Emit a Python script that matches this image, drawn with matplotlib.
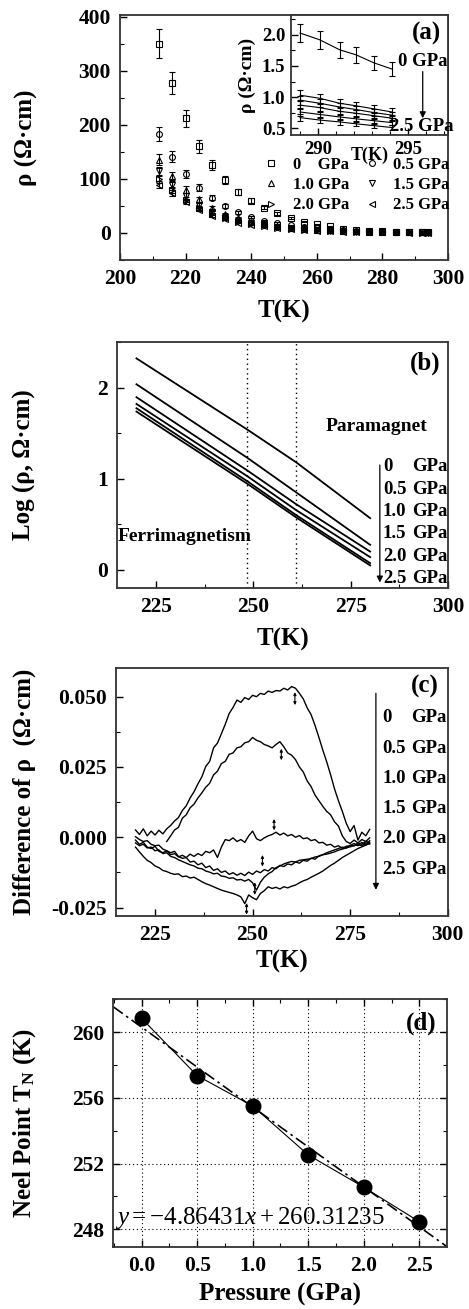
import numpy as np
import matplotlib
matplotlib.use('Agg')
import matplotlib.pyplot as plt
from matplotlib.ticker import MultipleLocator, FormatStrFormatter

plt.rcParams['font.family'] = ['Liberation Serif', 'DejaVu Serif']
plt.rcParams['font.weight'] = 'bold'
plt.rcParams['axes.labelweight'] = 'bold'
plt.rcParams['mathtext.fontset'] = 'custom'
plt.rcParams['mathtext.rm'] = 'Liberation Serif:regular'
plt.rcParams['mathtext.it'] = 'Liberation Serif:italic:regular'
plt.rcParams['mathtext.bf'] = 'Liberation Serif:bold'
plt.rcParams['axes.linewidth'] = 1.3
plt.rcParams['axes.edgecolor'] = '#333333'
plt.rcParams['xtick.direction'] = 'in'
plt.rcParams['ytick.direction'] = 'in'

# ---------------- data ----------------
pressures = ['0', '0.5', '1.0', '1.5', '2.0', '2.5']
legend_labels = ['0    GPa', '0.5 GPa', '1.0 GPa', '1.5 GPa', '2.0 GPa', '2.5 GPa']
markers_a = ['s', 'o', '^', 'v', '>', '<']

# panel (a) main
T_a = [212, 216, 220, 224, 228, 232, 236, 240, 244, 248, 252, 256, 260, 264,
       268, 272, 276, 280, 284, 288, 292, 294]
rho_0 = [350, 277, 212, 160, 125, 98, 75, 60, 47, 36, 28, 21, 16, 12, 8, 6, 4, 3, 2, 2, 1, 1]
rho_05 = [183, 141, 109, 84, 65, 49, 38, 29, 23, 18, 14, 11, 9, 7, 5, 4, 3, 2, 2, 1, 1, 1]
rho_10 = [135, 105, 80, 62, 46, 35, 27, 21, 17, 13, 10, 8, 6, 5, 4, 3, 2, 2, 1, 1, 1, 1]
rho_15 = [114, 89, 68, 51, 39, 29, 23, 18, 14, 11, 9, 7, 5, 4, 3, 2, 2, 1, 1, 1, 1, 0.5]
rho_20 = [100, 79, 61, 46, 35, 27, 21, 16, 13, 10, 8, 6, 5, 4, 3, 2, 2, 1, 1, 1, 0.5, 0.5]
rho_25 = [89, 74, 57, 43, 32, 25, 19, 15, 12, 9, 7, 5, 4, 3, 2, 2, 1, 1, 1, 0.5, 0.5, 0.5]
rel_err = 0.075  # relative uncertainty of resistivity

# panel (a) inset
T_in = [289.0, 290.1, 291.2, 292.1, 293.1, 294.1]
rin_0 = [2.03, 1.92, 1.76, 1.68, 1.55, 1.45]
rin_05 = [1.03, 0.98, 0.90, 0.86, 0.81, 0.76]
rin_10 = [0.95, 0.90, 0.84, 0.80, 0.75, 0.71]
rin_15 = [0.87, 0.83, 0.77, 0.74, 0.70, 0.66]
rin_20 = [0.76, 0.72, 0.68, 0.65, 0.62, 0.59]
rin_25 = [0.67, 0.63, 0.60, 0.57, 0.54, 0.51]

# panel (b)
T_b = [220, 248.6, 261.0, 280]
log_0 = [2.32, 1.535, 1.18, 0.567]
log_05 = [2.036, 1.225, 0.85, 0.274]
log_10 = [1.894, 1.086, 0.72, 0.20]
log_15 = [1.82, 1.023, 0.655, 0.139]
log_20 = [1.773, 0.968, 0.60, 0.073]
log_25 = [1.736, 0.94, 0.575, 0.048]

# panel (c)
T_c = list(range(220, 281))
T_c05 = list(range(228, 281))
d_0 = [0.0026, 0.0010, 0.0030, 0.0005, 0.0022, 0.0008, 0.0025, 0.0012, 0.0030, 0.0042,
       0.0058, 0.0070, 0.0095, 0.0112, 0.0140, 0.0162, 0.0190, 0.0215, 0.0252, 0.0270,
       0.0318, 0.0335, 0.0368, 0.0402, 0.0440, 0.0462, 0.0488, 0.0480, 0.0497, 0.0490,
       0.0505, 0.0500, 0.0512, 0.0508, 0.0520, 0.0515, 0.0522, 0.0520, 0.0530, 0.0524,
       0.0536, 0.0530, 0.0512, 0.0492, 0.0460, 0.0436, 0.0398, 0.0355, 0.0310, 0.0268,
       0.0222, 0.0172, 0.0130, 0.0092, 0.0050, 0.0020, 0.0042, -0.0010, 0.0018, 0.0005,
       0.0028]
d_05 = [-0.0015, 0.0005, 0.0026, 0.0035, 0.0068, 0.0080, 0.0105, 0.0118, 0.0140, 0.0158,
        0.0178, 0.0192, 0.0222, 0.0235, 0.0262, 0.0270, 0.0295, 0.0300, 0.0318, 0.0322,
        0.0336, 0.0340, 0.0355, 0.0345, 0.0340, 0.0330, 0.0325, 0.0318, 0.0330, 0.0340,
        0.0322, 0.0300, 0.0292, 0.0276, 0.0250, 0.0232, 0.0200, 0.0180, 0.0150, 0.0130,
        0.0110, 0.0092, 0.0080, 0.0055, 0.0040, 0.0005, -0.0015, -0.0022, -0.0010, -0.0020,
        -0.0008, -0.0015, -0.0002]
d_10 = [-0.0010, -0.0025, -0.0018, -0.0035, -0.0040, -0.0032, -0.0050, -0.0055, -0.0048, -0.0062,
        -0.0058, -0.0070, -0.0064, -0.0072, -0.0060, -0.0068, -0.0058, -0.0065, -0.0050, -0.0055,
        -0.0045, -0.0072, -0.0035, -0.0008, -0.0012, -0.0002, -0.0015, -0.0008, -0.0018, 0.0005,
        0.0022, -0.0005, -0.0012, -0.0002, 0.0005, 0.0010, 0.0018, 0.0008, 0.0015, 0.0005,
        0.0010, 0.0000, 0.0006, -0.0005, -0.0002, -0.0012, -0.0008, -0.0020, -0.0018, -0.0028,
        -0.0025, -0.0035, -0.0030, -0.0040, -0.0032, -0.0030, -0.0022, -0.0030, -0.0018, -0.0028,
        -0.0012]
d_15 = [0.0002, -0.0008, -0.0015, -0.0012, -0.0025, -0.0030, -0.0028, -0.0042, -0.0048, -0.0055,
        -0.0050, -0.0068, -0.0075, -0.0072, -0.0088, -0.0085, -0.0098, -0.0092, -0.0108, -0.0102,
        -0.0118, -0.0112, -0.0125, -0.0120, -0.0132, -0.0126, -0.0135, -0.0128, -0.0136, -0.0124,
        -0.0132, -0.0120, -0.0126, -0.0115, -0.0120, -0.0108, -0.0112, -0.0100, -0.0104, -0.0095,
        -0.0098, -0.0088, -0.0092, -0.0082, -0.0085, -0.0074, -0.0078, -0.0066, -0.0062, -0.0055,
        -0.0050, -0.0045, -0.0040, -0.0035, -0.0038, -0.0028, -0.0030, -0.0020, -0.0025, -0.0015,
        -0.0018]
d_20 = [-0.0020, -0.0030, -0.0025, -0.0038, -0.0035, -0.0048, -0.0045, -0.0058, -0.0055, -0.0068,
        -0.0072, -0.0080, -0.0086, -0.0092, -0.0098, -0.0102, -0.0110, -0.0112, -0.0120, -0.0124,
        -0.0130, -0.0128, -0.0138, -0.0140, -0.0146, -0.0144, -0.0152, -0.0150, -0.0156, -0.0150,
        -0.0162, -0.0188, -0.0160, -0.0142, -0.0130, -0.0122, -0.0108, -0.0102, -0.0095, -0.0090,
        -0.0086, -0.0088, -0.0082, -0.0080, -0.0078, -0.0076, -0.0070, -0.0068, -0.0062, -0.0060,
        -0.0056, -0.0052, -0.0046, -0.0042, -0.0038, -0.0034, -0.0030, -0.0026, -0.0030, -0.0020,
        -0.0024]
d_25 = [-0.0035, -0.0052, -0.0068, -0.0082, -0.0090, -0.0102, -0.0108, -0.0118, -0.0122, -0.0128,
        -0.0132, -0.0130, -0.0140, -0.0138, -0.0145, -0.0142, -0.0150, -0.0158, -0.0165, -0.0170,
        -0.0176, -0.0182, -0.0188, -0.0192, -0.0196, -0.0200, -0.0205, -0.0212, -0.0236, -0.0205,
        -0.0215, -0.0222, -0.0200, -0.0190, -0.0176, -0.0182, -0.0178, -0.0184, -0.0176, -0.0180,
        -0.0174, -0.0170, -0.0162, -0.0155, -0.0150, -0.0142, -0.0135, -0.0128, -0.0120, -0.0110,
        -0.0100, -0.0092, -0.0082, -0.0072, -0.0064, -0.0056, -0.0048, -0.0040, -0.0034, -0.0028,
        -0.0022]
# small transition markers on (c): (upper, lower) ends
mark_hi = [0.0516, 0.0315, 0.0065, -0.0063, -0.0160, -0.0234]
mark_lo = [0.0470, 0.0274, 0.0025, -0.0104, -0.0205, -0.0275]

# panel (d)
pressure = [0.0, 0.5, 1.0, 1.5, 2.0, 2.5]
tn = [260.85, 257.36, 255.51, 252.53, 250.56, 248.46]
fit_slope = -4.86431
fit_icpt = 260.31235

# ---------------- figure ----------------
W, H = 469, 1309
fig = plt.figure(figsize=(W / 100, H / 100), dpi=100)


def box(l, t, r, b):
    return [l / W, 1 - b / H, (r - l) / W, (b - t) / H]


TICK = 15.5
LAB = 18
TXT = 14
ROW = 13.5


def style(ax, pad=6.5, size=TICK):
    ax.tick_params(which='major', length=5, width=1.0, labelsize=size, pad=pad)
    ax.tick_params(which='minor', length=3, width=0.8)
    for s in ax.spines.values():
        s.set_color('#333333')


# ===== (a) =====
ax = fig.add_axes(box(120, 15, 448, 260))
series_a = [rho_0, rho_05, rho_10, rho_15, rho_20, rho_25]
handles = []
for vals, mk, lab in zip(series_a, markers_a, legend_labels):
    v = np.array(vals, dtype=float)
    h = ax.errorbar(T_a, v, yerr=rel_err * v, fmt=mk, ms=4.2, mfc='none', mec='k',
                    mew=0.8, ecolor='k', elinewidth=0.8, capsize=2.5, capthick=0.8,
                    label=lab)
    handles.append(h)
ax.set_xlim(200, 300)
ax.set_ylim(-50, 403)
ax.xaxis.set_major_locator(MultipleLocator(20))
ax.xaxis.set_minor_locator(MultipleLocator(10))
ax.yaxis.set_major_locator(MultipleLocator(100))
ax.yaxis.set_minor_locator(MultipleLocator(50))
style(ax)
ax.set_xlabel('T(K)', fontsize=LAB)
ax.set_ylabel('ρ (Ω·cm)', fontsize=LAB)
ax.xaxis.set_label_coords(0.5, -0.163)
ax.yaxis.set_label_coords(-0.25, 0.5)
order = [0, 2, 4, 1, 3, 5]
lh = [handles[i][0] for i in order]
ll = [legend_labels[i] for i in order]
ax.legend(lh, ll, ncol=2, loc='upper right', bbox_to_anchor=(1.005, 0.42),
          frameon=False, fontsize=12, handlelength=1.0, handletextpad=0.8,
          columnspacing=0.85, labelspacing=0.25, borderaxespad=0, borderpad=0)

# inset
axi = fig.add_axes(box(291, 15, 448, 135))
for vals in [rin_0, rin_05, rin_10, rin_15, rin_20, rin_25]:
    v = np.array(vals)
    axi.errorbar(T_in, v, yerr=rel_err * v, color='k', lw=0.8, elinewidth=0.8,
                 capsize=2.5, capthick=0.8)
axi.set_xlim(288.5, 297.2)
axi.set_ylim(0.39, 2.32)
axi.xaxis.set_major_locator(MultipleLocator(5))
axi.xaxis.set_minor_locator(MultipleLocator(1))
axi.yaxis.set_major_locator(MultipleLocator(0.5))
axi.yaxis.set_minor_locator(MultipleLocator(0.25))
style(axi, pad=4, size=13.5)
axi.yaxis.set_major_formatter(FormatStrFormatter('%.1f'))
axi.set_xlabel('T(K)', fontsize=13)
axi.set_ylabel('ρ (Ω·cm)', fontsize=14)
axi.xaxis.set_label_coords(0.5, -0.1)
axi.yaxis.set_label_coords(-0.22, 0.5)
axi.text(296.0, 2.03, '(a)', fontsize=18, ha='center', va='center')
axi.text(295.8, 1.57, '0 GPa', fontsize=ROW, ha='center', va='center')
axi.text(295.76, 0.53, '2.5 GPa', fontsize=ROW, ha='center', va='center')
axi.annotate('', xy=(295.8, 0.66), xytext=(295.8, 1.41),
             arrowprops=dict(arrowstyle='-|>', color='k', lw=0.9,
                             mutation_scale=9, shrinkA=0, shrinkB=0))

# ===== (b) =====
ax = fig.add_axes(box(117, 342, 448, 588))
for vals in [log_0, log_05, log_10, log_15, log_20, log_25]:
    ax.plot(T_b, vals, color='k', lw=1.3)
for t in [min(tn), max(tn)]:
    ax.axvline(t, color='k', ls=(0, (1, 2.5)), lw=1.0)
ax.set_xlim(215, 300)
ax.set_ylim(-0.2, 2.5)
ax.xaxis.set_major_locator(MultipleLocator(25))
ax.xaxis.set_minor_locator(MultipleLocator(12.5))
ax.yaxis.set_major_locator(MultipleLocator(1))
ax.yaxis.set_minor_locator(MultipleLocator(0.5))
style(ax)
ax.set_xlabel('T(K)', fontsize=LAB)
ax.set_ylabel('Log (ρ, Ω·cm)', fontsize=LAB)
ax.xaxis.set_label_coords(0.5, -0.164)
ax.yaxis.set_label_coords(-0.245, 0.5)
ax.text(294.1, 2.27, '(b)', fontsize=18, ha='center', va='center')
ax.text(281.7, 1.57, 'Paramagnet', fontsize=TXT, ha='center', va='center')
ax.text(215.2, 0.365, 'Ferrimagnetism', fontsize=TXT, ha='left', va='center')
rows_b = [1.133, 0.885, 0.64, 0.395, 0.146, -0.091]
for p, y in zip(pressures, rows_b):
    ax.text(283.3, y, p, fontsize=ROW, ha='left', va='center')
    ax.text(290.8, y, 'GPa', fontsize=ROW, ha='left', va='center')
ax.annotate('', xy=(282.5, -0.14), xytext=(282.5, 1.15),
            arrowprops=dict(arrowstyle='-|>', color='k', lw=0.9,
                            mutation_scale=9, shrinkA=0, shrinkB=0))

# ===== (c) =====
ax = fig.add_axes(box(116, 668.3, 447.7, 916))
ax.plot(T_c, d_0, color='k', lw=1.0)
ax.plot(T_c05, d_05, color='k', lw=1.0)
for vals in [d_10, d_15, d_20, d_25]:
    ax.plot(T_c, vals, color='k', lw=1.0)
for t, hi, lo in zip(tn, mark_hi, mark_lo):
    ax.annotate('', xy=(t, lo), xytext=(t, hi),
                arrowprops=dict(arrowstyle='<|-|>', color='k', lw=0.8,
                                mutation_scale=4, shrinkA=0, shrinkB=0))
ax.set_xlim(215, 300)
ax.set_ylim(-0.028, 0.0601)
ax.xaxis.set_major_locator(MultipleLocator(25))
ax.xaxis.set_minor_locator(MultipleLocator(12.5))
ax.yaxis.set_major_locator(MultipleLocator(0.025))
ax.yaxis.set_minor_locator(MultipleLocator(0.0125))
ax.yaxis.set_major_formatter(FormatStrFormatter('%.3f'))
style(ax)
ax.set_xlabel('T(K)', fontsize=LAB)
ax.set_ylabel('Difference of ρ  (Ω·cm)', fontsize=LAB)
ax.xaxis.set_label_coords(0.5, -0.137)
ax.yaxis.set_label_coords(-0.24, 0.5)
ax.text(294.1, 0.0536, '(c)', fontsize=18, ha='center', va='center')
rows_c = [0.0427, 0.0316, 0.021, 0.0103, -0.0006, -0.0116]
for p, y in zip(pressures, rows_c):
    ax.text(283.2, y, p, fontsize=ROW, ha='left', va='center')
    ax.text(290.6, y, 'GPa', fontsize=ROW, ha='left', va='center')
ax.annotate('', xy=(281.6, -0.0187), xytext=(281.6, 0.0512),
            arrowprops=dict(arrowstyle='-|>', color='k', lw=0.9,
                            mutation_scale=9, shrinkA=0, shrinkB=0))

# ===== (d) =====
ax = fig.add_axes(box(113.3, 999, 446.7, 1246.7))
xl = (-0.255, 2.746)
ax.set_xlim(*xl)
ax.set_ylim(246.94, 262.03)
xf = np.array(xl)
ax.plot(xf, fit_slope * xf + fit_icpt, color='k', lw=1.2, ls=(0, (7, 2.5, 1.5, 2.5)))
ax.plot(pressure, tn, color='k', lw=0.8, marker='o', ms=10.5, mfc='k', mec='k')
ax.xaxis.set_major_locator(MultipleLocator(0.5))
ax.xaxis.set_minor_locator(MultipleLocator(0.25))
ax.yaxis.set_major_locator(MultipleLocator(4))
ax.yaxis.set_minor_locator(MultipleLocator(2))
ax.xaxis.set_major_formatter(FormatStrFormatter('%.1f'))
ax.grid(True, which='major', color='k', ls=(0, (1, 2.5)), lw=0.8)
ax.tick_params(which='both', top=True, right=True)
style(ax)
ax.set_xlabel('Pressure (GPa)', fontsize=LAB)
ax.set_ylabel(r'Neel Point T$_\mathbf{N}$ (K)', fontsize=LAB)
ax.xaxis.set_label_coords(0.5, -0.148)
ax.yaxis.set_label_coords(-0.225, 0.5)
ax.text(2.52, 260.55, '(d)', fontsize=18, ha='center', va='center')
ax.text(-0.24, 248.67, r'$y=-4.86431x+260.31235$', fontsize=18,
        ha='left', va='center', fontweight='normal')

fig.savefig('out.png', dpi=100)
